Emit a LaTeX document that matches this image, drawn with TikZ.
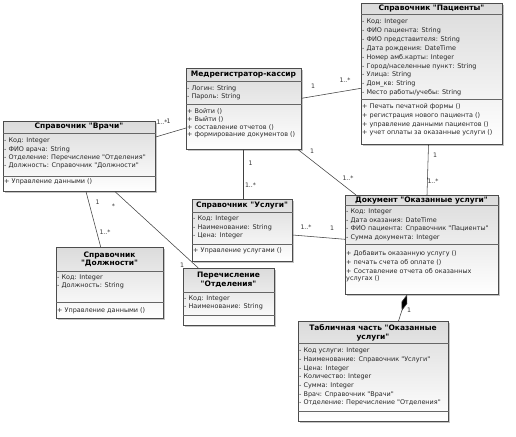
\documentclass[tikz,border=0pt]{standalone}
\usepackage{fontspec}
\setmainfont{DejaVu Sans}[Ligatures=TeXOff]
\usetikzlibrary{shadows,arrows.meta,calc}
\tikzset{
  cls/.style={draw=black!70, line width=0.6pt, anchor=north west, inner sep=0pt,
    top color=gray!28, bottom color=white,
    drop shadow={shadow xshift=1.3pt, shadow yshift=-1.3pt, fill=black!45, opacity=0.5}},
  sepline/.style={draw=black!60, line width=0.5pt},
  attr/.style={anchor=west, inner sep=0pt, font=\fontsize{6.45}{7}\selectfont, text=black!85},
  ttl/.style={inner sep=0pt, align=center, font=\fontsize{7.5}{8.6}\selectfont\bfseries},
  conn/.style={draw=black!75, line width=0.55pt},
  lbl/.style={inner sep=0pt, font=\fontsize{6.2}{6.5}\selectfont, text=black!80}
}
\begin{document}
\begin{tikzpicture}[x=1pt,y=-1pt]
\useasboundingbox[fill=white] (0,0) rectangle (516,436);

% ---------- Справочник "Врачи"
\node[cls, minimum width=152pt, minimum height=70pt] (vr) at (3,121) {};
\node[ttl] (vrt) at (79,126.5) {Справочник "Врачи"};
\draw[sepline] (vr.west |- 0,133) -- (vr.east |- 0,133);
\draw[sepline] (vr.west |- 0,176) -- (vr.east |- 0,176);
\foreach \t [count=\i] in {{- Код: Integer},{- ФИО врача: String},{- Отделение: Перечисление "Отделения"},{- Должность: Справочник "Должности"}}
  \node[attr] (vra\i) at (4,141+8.3*\i-8.3) {\t};
\node[attr] (vro1) at (4,181.5) {+ Управление данными ()};

% ---------- Медрегистратор-кассир
\node[cls, minimum width=115pt, minimum height=81pt] (mr) at (186,68) {};
\node[ttl] (mrt) at (243.5,74.5) {Медрегистратор-кассир};
\draw[sepline] (mr.west |- 0,81.5) -- (mr.east |- 0,81.5);
\draw[sepline] (mr.west |- 0,104) -- (mr.east |- 0,104);
\foreach \t [count=\i] in {{- Логин: String},{- Пароль: String}}
  \node[attr] (mra\i) at (187,89+8*\i-8) {\t};
\foreach \t [count=\i] in {{+ Войти ()},{+ Выйти ()},{+ составление отчетов ()},{+ формирование документов ()}}
  \node[attr] (mro\i) at (187,111+8*\i-8) {\t};

% ---------- Справочник "Пациенты"
\node[cls, minimum width=141pt, minimum height=141pt] (pt) at (361,3) {};
\node[ttl] (ptt) at (431.5,8.5) {Справочник "Пациенты"};
\draw[sepline] (pt.west |- 0,14) -- (pt.east |- 0,14);
\draw[sepline] (pt.west |- 0,99.5) -- (pt.east |- 0,99.5);
\foreach \t [count=\i] in {{- Код: Integer},{- ФИО пациента: String},{- ФИО представителя: String},{- Дата рождения: DateTime},{- Номер амб.карты: Integer},{- Город/населенные пункт: String},{- Улица: String},{- Дом\_кв: String},{- Место работы/учебы: String}}
  \node[attr] (pta\i) at (362,21.8+8.9*\i-8.9) {\t};
\foreach \t [count=\i] in {{+ Печать печатной формы ()},{+ регистрация нового пациента ()},{+ управление данными пациентов ()},{+ учет оплаты за оказанные услуги ()}}
  \node[attr] (pto\i) at (362,107+8.7*\i-8.7) {\t};

% ---------- Справочник "Услуги"
\node[cls, minimum width=100pt, minimum height=62pt] (us) at (192,199) {};
\node[ttl] (ust) at (242,205.5) {Справочник "Услуги"};
\draw[sepline] (us.west |- 0,212) -- (us.east |- 0,212);
\draw[sepline] (us.west |- 0,244) -- (us.east |- 0,244);
\foreach \t [count=\i] in {{- Код: Integer},{- Наименование: String},{- Цена: Integer}}
  \node[attr] (usa\i) at (193,219+8.5*\i-8.5) {\t};
\node[attr] (uso1) at (193,251) {+ Управление услугами ()};

% ---------- Документ "Оказанные услуги"
\node[cls, minimum width=153pt, minimum height=99pt] (dc) at (345,195) {};
\node[ttl] (dct) at (421.5,200.3) {Документ "Оказанные услуги"};
\draw[sepline] (dc.west |- 0,205.7) -- (dc.east |- 0,205.7);
\draw[sepline] (dc.west |- 0,244.5) -- (dc.east |- 0,244.5);
\foreach \t [count=\i] in {{- Код: Integer},{- Дата оказания: DateTime},{- ФИО пациента: Справочник "Пациенты"},{- Сумма документа: Integer}}
  \node[attr] (dca\i) at (346,212+8.6*\i-8.6) {\t};
\foreach \t [count=\i] in {{+ Добавить оказанную услугу ()},{+ печать счета об оплате ()},{+ Составление отчета об оказанных},{услугах ()}}
  \node[attr] (dco\i) at (346,254+8.3*\i-8.3) {\t};

% ---------- Справочник "Должности"
\node[cls, minimum width=107pt, minimum height=71pt] (dl) at (56,247) {};
\node[ttl] (dlt) at (109.5,259.5) {Справочник\\"Должности"};
\draw[sepline] (dl.west |- 0,271.7) -- (dl.east |- 0,271.7);
\draw[sepline] (dl.west |- 0,302.7) -- (dl.east |- 0,302.7);
\foreach \t [count=\i] in {{- Код: Integer},{- Должность: String}}
  \node[attr] (dla\i) at (57,277.5+8.4*\i-8.4) {\t};
\node[attr] (dlo1) at (57,310.7) {+ Управление данными ()};

% ---------- Перечисление "Отделения"
\node[cls, minimum width=91pt, minimum height=57pt] (ot) at (183,268) {};
\node[ttl] (ott) at (228.5,279.5) {Перечисление\\"Отделения"};
\draw[sepline] (ot.west |- 0,292.3) -- (ot.east |- 0,292.3);
\draw[sepline] (ot.west |- 0,315.7) -- (ot.east |- 0,315.7);
\foreach \t [count=\i] in {{- Код: Integer},{- Наименование: String}}
  \node[attr] (ota\i) at (184,299+7.7*\i-7.7) {\t};

% ---------- Табличная часть "Оказанные услуги"
\node[cls, minimum width=150pt, minimum height=100pt] (tb) at (298,321) {};
\node[ttl] (tbt) at (373,332.8) {Табличная часть "Оказанные\\услуги"};
\draw[sepline] (tb.west |- 0,343.3) -- (tb.east |- 0,343.3);
\draw[sepline] (tb.west |- 0,411.7) -- (tb.east |- 0,411.7);
\foreach \t [count=\i] in {{- Код услуги: Integer},{- Наименование: Справочник "Услуги"},{- Цена: Integer},{- Количество: Integer},{- Сумма: Integer},{- Врач: Справочник "Врачи"},{- Отделение: Перечисление "Отделения"}}
  \node[attr] (tba\i) at (299,351+8.7*\i-8.7) {\t};

% ---------- connectors
\draw[conn] (vr.east |- 0,137) -- (mr.west |- 0,128);
\node[lbl] (l1a) at (162,122) {1..*};
\node[lbl] (l1b) at (168.5,121.5) {1};

\draw[conn] (mr.east |- 0,98.3) -- (pt.west |- 0,88.3);
\node[lbl] (l2a) at (313,86) {1};
\node[lbl] (l2b) at (345,80) {1..*};

\draw[conn] (mr.south -| 243,0) -- (us.north -| 243,0);
\node[lbl] (l3a) at (250.5,163) {1};
\node[lbl] (l3b) at (250.5,185) {1..*};

\draw[conn] (mr.south -| 298,0) -- (dc.north -| 356,0);
\node[lbl] (l4a) at (312,151) {1};
\node[lbl] (l4b) at (348,178) {1..*};

\draw[conn] (pt.south -| 428.5,0) -- (dc.north -| 427,0);
\node[lbl] (l5a) at (435,155) {1};
\node[lbl] (l5b) at (433,181) {1..*};

\draw[conn] (us.east |- 0,235) -- (dc.west |- 0,239.3);
\node[lbl] (l6a) at (306,227) {1..*};
\node[lbl] (l6b) at (332,228.5) {1};

\draw[conn] (vr.south -| 86,0) -- (dl.north -| 100.7,0);
\node[lbl] (l7a) at (97.5,202.5) {1};
\node[lbl] (l7b) at (105,232) {1..*};

\draw[conn] (vr.south -| 115,0) -- (ot.north -| 198.3,0);
\node[lbl] (l8a) at (113.5,206) {*};
\node[lbl] (l8b) at (182,265) {1};

\draw[conn, {Diamond[length=17pt,width=6pt,fill=black]}-] (dc.south -| 407,0) -- (tb.north -| 398.5,0);
\node[lbl] (l9a) at (409,310) {1};
\end{tikzpicture}
\end{document}
